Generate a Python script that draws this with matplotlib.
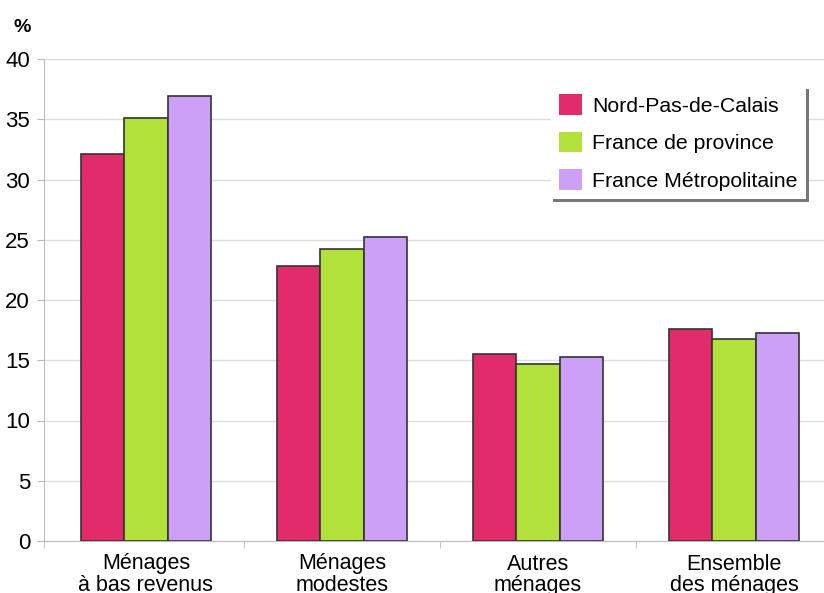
import numpy as np
import matplotlib.pyplot as plt
from matplotlib.ticker import FixedLocator

categories = ["Ménages\nà bas revenus", "Ménages\nmodestes", "Autres\nménages", "Ensemble\ndes ménages"]
series_names = ["Nord-Pas-de-Calais", "France de province", "France Métropolitaine"]
nord = [32.1, 22.8, 15.5, 17.6]
province = [35.1, 24.2, 14.7, 16.8]
metro = [36.9, 25.2, 15.3, 17.3]
colors = ["#E12B6A", "#B3E13C", "#CCA0F7"]

plt.rcParams['font.family'] = ['Liberation Sans', 'DejaVu Sans']

fig = plt.figure(figsize=(8.24, 5.93), dpi=100)
ax = fig.add_axes([44 / 824, 1 - 541 / 593, 1 - 44 / 824 + 0.005, (541 - 59) / 593])

x = np.arange(len(categories))
w = 0.222
for i, (vals, name) in enumerate(zip([nord, province, metro], series_names)):
    ax.bar(x + (i - 1) * w, vals, w, color=colors[i], edgecolor="#333333",
           linewidth=1.2, label=name, zorder=3)

ax.set_ylim(0, 40)
ax.set_yticks(range(0, 41, 5))
ax.set_xlim(-0.52, 3.48)
ax.set_xticks(x)
ax.set_xticklabels(categories, fontsize=15.5, linespacing=1.05)
ax.xaxis.set_minor_locator(FixedLocator([-0.52, 0.5, 1.5, 2.5]))
ax.tick_params(axis='x', which='major', length=0, pad=9)
ax.tick_params(axis='x', which='minor', length=5, color="#bbbbbb")
ax.tick_params(axis='y', labelsize=16, length=5, color="#bbbbbb", pad=5)
ax.grid(axis='y', color="#dddddd", linewidth=1, zorder=0)
for s in ['top', 'right']:
    ax.spines[s].set_visible(False)
for s in ['left', 'bottom']:
    ax.spines[s].set_color("#bbbbbb")

fig.text(22 / 824, 1 - 27 / 593, "%", fontsize=14, fontweight='bold', ha='center', va='center')

leg = ax.legend(loc='upper right', bbox_to_anchor=(806 / 824, 1 - 86 / 593),
                bbox_transform=fig.transFigure, borderaxespad=0, fontsize=15.3,
                frameon=True, fancybox=False,
                shadow={'color': '#777777', 'alpha': 1},
                handlelength=1.1, handleheight=1.1,
                borderpad=0.4, labelspacing=0.75, handletextpad=0.45)
leg.get_frame().set_edgecolor("#ffffff")
leg.get_frame().set_linewidth(0)
for h in leg.legend_handles:
    h.set_edgecolor('none')

fig.savefig("out.png", dpi=100)
